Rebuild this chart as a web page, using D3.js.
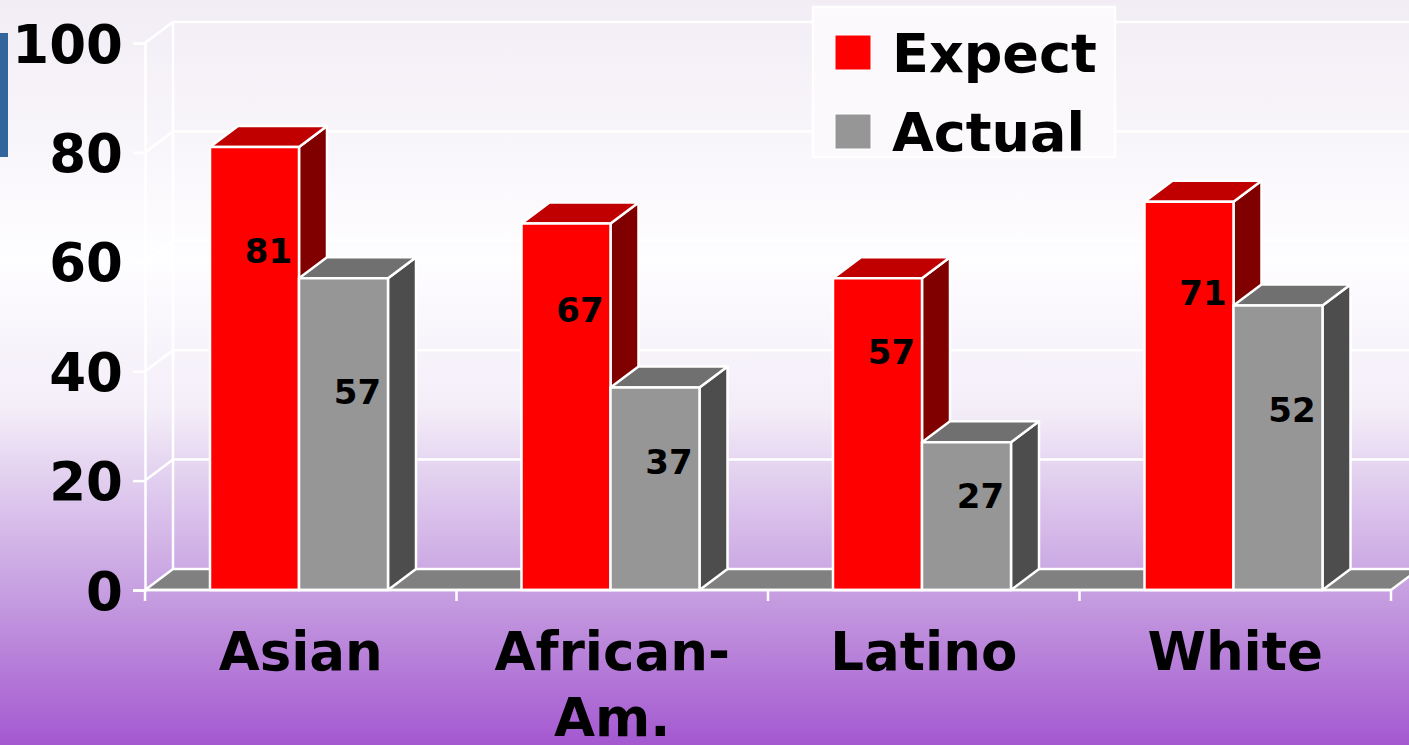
<!DOCTYPE html>
<html>
<head>
<meta charset="utf-8">
<script src="https://cdn.jsdelivr.net/npm/d3@7"></script>
<style>
  html, body { margin: 0; padding: 0; overflow: hidden; }
  svg { display: block; }
  text { font-family: "DejaVu Sans", Verdana, sans-serif; font-weight: bold; }
</style>
</head>
<body>
<svg id="chart" width="1409" height="745"></svg>
<script>
// ---- data ----
const categories = ["Asian", "African-Am.", "Latino", "White"];
const seriesNames = ["Expect", "Actual"];
const expectValues = [81, 67, 57, 71];
const actualValues = [57, 37, 27, 52];
const yTicks = [0, 20, 40, 60, 80, 100];

// ---- styles ----
const W = 1409, H = 745;
const depthX = 28, depthY = -21;
const palette = {
  Expect: { front: "#FF0000", top: "#C00000", side: "#800000" },
  Actual: { front: "#969696", top: "#707070", side: "#4D4D4D" }
};
const labelFrac = { Expect: 0.765, Actual: 0.635 };

const svg = d3.select("#chart");

// background gradient
const defs = svg.append("defs");
const grad = defs.append("linearGradient").attr("id", "bg")
  .attr("x1", 0).attr("y1", 0).attr("x2", 0).attr("y2", 1);
[[0, "#F2EDF5"], [0.35, "#FEFDFF"], [0.55, "#F3EDF8"], [0.8, "#C59DE0"], [1, "#A458D0"]]
  .forEach(([o, c]) => grad.append("stop").attr("offset", o).attr("stop-color", c));
svg.append("rect").attr("width", W).attr("height", H).attr("fill", "url(#bg)");

// blue accent bar at the left
svg.append("rect").attr("x", 0).attr("y", 33).attr("width", 8).attr("height", 124).attr("fill", "#31659B");

// scales
const x = d3.scaleBand().domain(categories).range([145, 1391]).padding(0);
const y = d3.scaleLinear().domain([0, 100]).range([590, 43]);
const inner = d3.scaleBand().domain(seriesNames)
  .range([65, 65 + 178]).padding(0);

const x0 = 145, x1 = 1391;
const white = "#FFFFFF";

// back wall gridlines
const grid = svg.append("g");
yTicks.forEach(t => {
  if (t === 0) return;
  grid.append("line")
    .attr("x1", x0 + depthX).attr("x2", x1 + depthX + 40)
    .attr("y1", y(t) + depthY).attr("y2", y(t) + depthY)
    .attr("stroke", white).attr("stroke-width", 2.5);
  grid.append("line")
    .attr("x1", x0).attr("y1", y(t))
    .attr("x2", x0 + depthX).attr("y2", y(t) + depthY)
    .attr("stroke", white).attr("stroke-width", 2.5);
});
grid.append("line").attr("x1", x0 + depthX).attr("x2", x0 + depthX)
  .attr("y1", y(100) + depthY).attr("y2", y(0) + depthY)
  .attr("stroke", white).attr("stroke-width", 2.5);

// floor
svg.append("path")
  .attr("d", `M${x0},${y(0)} L${x1},${y(0)} L${x1 + depthX},${y(0) + depthY} L${x0 + depthX},${y(0) + depthY} Z`)
  .attr("fill", "#808080").attr("stroke", white).attr("stroke-width", 2.5)
  .attr("stroke-linejoin", "round");

// y axis
const yAxis = d3.axisLeft(y).tickValues(yTicks).tickSize(12).tickPadding(10);
const gy = svg.append("g").attr("transform", `translate(${x0},0)`).call(yAxis);
gy.select(".domain").attr("stroke", white).attr("stroke-width", 2.5);
gy.selectAll(".tick line").attr("stroke", white).attr("stroke-width", 2.5);
gy.selectAll(".tick text").attr("fill", "#000").attr("font-size", 53)
  .attr("font-family", "'DejaVu Sans', Verdana, sans-serif").attr("font-weight", "bold")
  .attr("dy", "0.36em");

// bars
const barsG = svg.append("g");
categories.forEach((cat, i) => {
  const vals = { Expect: expectValues[i], Actual: actualValues[i] };
  seriesNames.forEach(s => {
    const v = vals[s];
    const bx = x(cat) + inner(s);
    const bw = inner.bandwidth();
    const top = y(v), bot = y(0);
    const c = palette[s];
    const g = barsG.append("g").attr("stroke", white).attr("stroke-width", 2.5)
      .attr("stroke-linejoin", "round");
    g.append("path").attr("fill", c.side)
      .attr("d", `M${bx + bw},${top} L${bx + bw + depthX},${top + depthY} L${bx + bw + depthX},${bot + depthY} L${bx + bw},${bot} Z`);
    g.append("path").attr("fill", c.top)
      .attr("d", `M${bx},${top} L${bx + depthX},${top + depthY} L${bx + bw + depthX},${top + depthY} L${bx + bw},${top} Z`);
    g.append("rect").attr("fill", c.front)
      .attr("x", bx).attr("y", top).attr("width", bw).attr("height", bot - top);
    barsG.append("text")
      .attr("x", bx + bw / 2 + depthX / 2)
      .attr("y", y(v * labelFrac[s]))
      .attr("dy", "0.36em")
      .attr("text-anchor", "middle")
      .attr("font-size", 34)
      .attr("fill", "#000")
      .text(v);
  });
});

// x axis line and ticks
svg.append("line").attr("x1", x0).attr("x2", x1).attr("y1", y(0)).attr("y2", y(0))
  .attr("stroke", white).attr("stroke-width", 2.5);
const xTickPos = categories.map(c => x(c)).concat([x1]);
svg.append("g").selectAll("line").data(xTickPos).join("line")
  .attr("x1", d => d).attr("x2", d => d)
  .attr("y1", y(0)).attr("y2", y(0) + 11)
  .attr("stroke", white).attr("stroke-width", 2.5);

// category labels
const catG = svg.append("g");
categories.forEach(cat => {
  const parts = cat.includes("-") ? [cat.slice(0, cat.indexOf("-") + 1), cat.slice(cat.indexOf("-") + 1)] : [cat];
  const t = catG.append("text")
    .attr("x", x(cat) + x.bandwidth() / 2)
    .attr("y", 670)
    .attr("text-anchor", "middle")
    .attr("font-size", 53)
    .attr("fill", "#000");
  parts.forEach((p, k) => {
    t.append("tspan").attr("x", x(cat) + x.bandwidth() / 2)
      .attr("dy", k === 0 ? 0 : 66).text(p);
  });
});

// legend
const lg = svg.append("g");
lg.append("rect").attr("x", 813).attr("y", 7).attr("width", 302).attr("height", 150)
  .attr("fill", "#FBF9FC").attr("stroke", white).attr("stroke-width", 2.5);
seriesNames.forEach((s, k) => {
  lg.append("rect").attr("x", 835).attr("y", 35 + k * 79).attr("width", 36).attr("height", 35)
    .attr("fill", palette[s].front).attr("stroke", white).attr("stroke-width", 1);
  lg.append("text").attr("x", 892).attr("y", 72 + k * 79)
    .attr("font-size", 54).attr("fill", "#000").text(s);
});
</script>
</body>
</html>
